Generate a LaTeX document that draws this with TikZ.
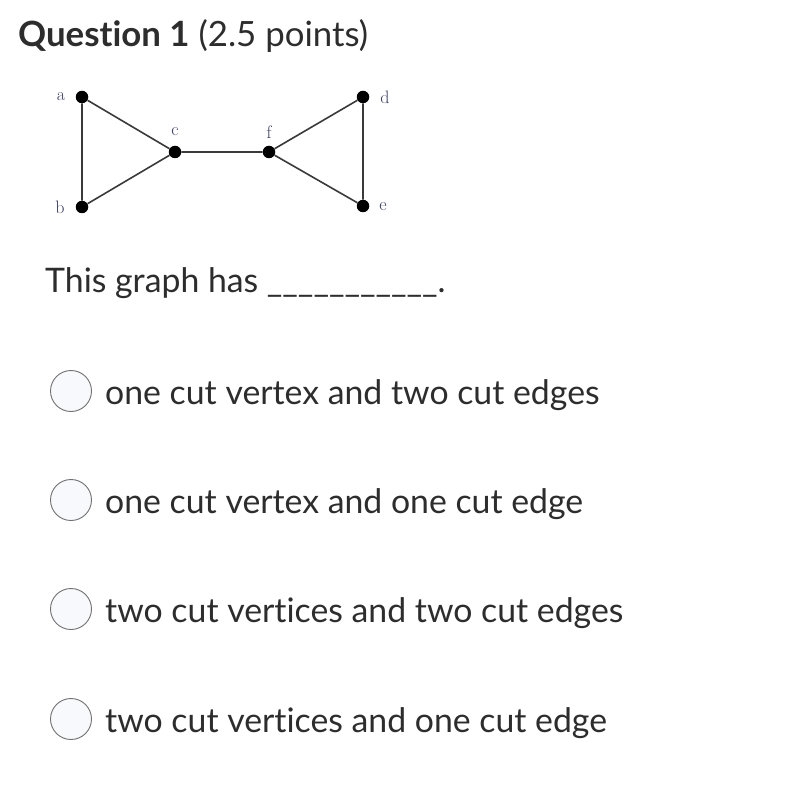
\documentclass[tikz,border=0pt]{standalone}
\usepackage{fontspec}
\newfontfamily\lato[RawFeature=-liga]{Lato}
\definecolor{txt}{HTML}{2D2D2D}
\definecolor{lbl}{HTML}{3A3F66}
\definecolor{edgec}{HTML}{3A3A3A}
\definecolor{radfill}{HTML}{F8F9FD}
\definecolor{radline}{HTML}{707070}
\begin{document}
\begin{tikzpicture}[x=1pt,y=-1pt,
  vtx/.style={circle,fill=black,inner sep=0pt,minimum size=12.5pt},
  gedge/.style={draw=edgec,line width=1.6pt},
  vlabel/.style={font=\fontsize{18}{18}\selectfont,text=lbl,inner sep=0pt},
  radio/.style={circle,draw=radline,fill=radfill,line width=0.9pt,minimum size=41pt,inner sep=0pt},
  opt/.style={anchor=base west,font=\lato\fontsize{33.8}{34}\selectfont,text=txt,inner sep=0pt}]
\useasboundingbox[fill=white] (0,0) rectangle (794,799);
% title
\node[anchor=base west,inner sep=0pt,text=txt,font=\lato\fontsize{34.8}{35}\selectfont] (title) at (18,47) {\textbf{Question 1} (2.5 points)};
% graph
\node[vtx] (a) at (82,97) {};
\node[vtx] (b) at (82,207) {};
\node[vtx] (c) at (175,152) {};
\node[vtx] (f) at (269,152) {};
\node[vtx] (d) at (363,97) {};
\node[vtx] (e) at (363,206) {};
\draw[gedge] (a) -- (b) (a) -- (c) (b) -- (c) (c) -- (f) (f) -- (d) (f) -- (e) (d) -- (e);
\node[vlabel] (la) at (61,97) {a};
\node[vlabel] (lb) at (60,207) {b};
\node[vlabel] (lc) at (175,132) {c};
\node[vlabel] (lf) at (269,132) {f};
\node[vlabel] (ld) at (385,97) {d};
\node[vlabel] (le) at (383,207) {e};
% prompt
\node[opt] (prompt) at (45,292) {This graph has \_\_\_\_\_\_\_\_\_\_\_.};
% options
\node[radio] (r1) at (71,391) {};
\node[opt] (o1) at (105,404) {one cut vertex and two cut edges};
\node[radio] (r2) at (71,500) {};
\node[opt] (o2) at (105,513) {one cut vertex and one cut edge};
\node[radio] (r3) at (71,609) {};
\node[opt] (o3) at (105,622) {two cut vertices and two cut edges};
\node[radio] (r4) at (71,719) {};
\node[opt] (o4) at (105,732) {two cut vertices and one cut edge};
\end{tikzpicture}
\end{document}
